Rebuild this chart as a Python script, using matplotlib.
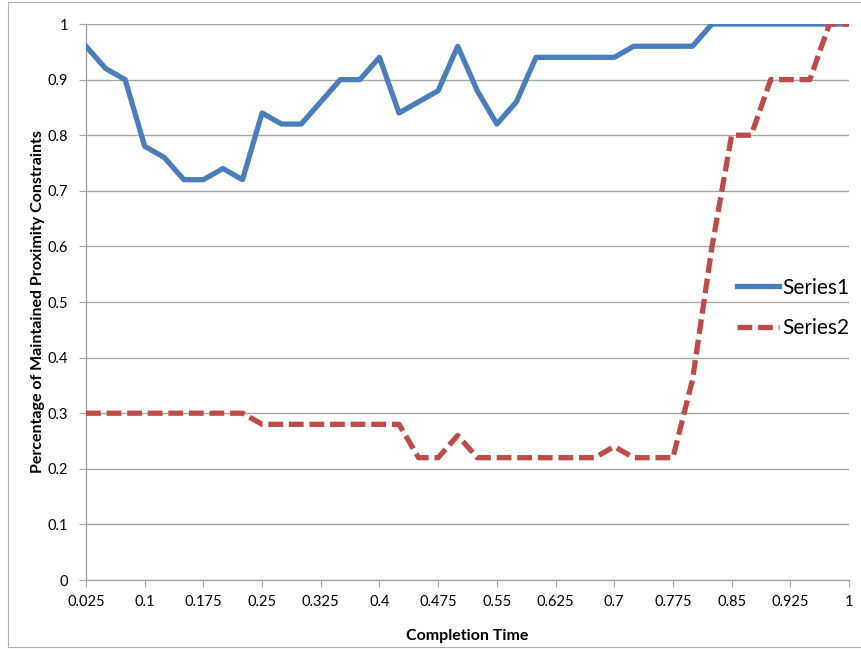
import matplotlib.pyplot as plt
import matplotlib.patches as mpatches

plt.rcParams["font.family"] = ["Lato", "DejaVu Sans"]

# completion time categories 0.025 .. 1
times = [round(0.025 * (i + 1), 3) for i in range(40)]
series1 = [0.96, 0.92, 0.90, 0.78, 0.76, 0.72, 0.72, 0.74, 0.72, 0.84,
           0.82, 0.82, 0.86, 0.90, 0.90, 0.94, 0.84, 0.86, 0.88, 0.96,
           0.88, 0.82, 0.86, 0.94, 0.94, 0.94, 0.94, 0.94, 0.96, 0.96,
           0.96, 0.96, 1.00, 1.00, 1.00, 1.00, 1.00, 1.00, 1.00, 1.00]
series2 = [0.30, 0.30, 0.30, 0.30, 0.30, 0.30, 0.30, 0.30, 0.30, 0.28,
           0.28, 0.28, 0.28, 0.28, 0.28, 0.28, 0.28, 0.22, 0.22, 0.26,
           0.22, 0.22, 0.22, 0.22, 0.22, 0.22, 0.22, 0.24, 0.22, 0.22,
           0.22, 0.36, 0.60, 0.80, 0.80, 0.90, 0.90, 0.90, 1.00, 1.00]
xtick_labels = ["0.025", "0.1", "0.175", "0.25", "0.325", "0.4", "0.475",
                "0.55", "0.625", "0.7", "0.775", "0.85", "0.925", "1"]
yticks = [0, 0.1, 0.2, 0.3, 0.4, 0.5, 0.6, 0.7, 0.8, 0.9, 1]

fig = plt.figure(figsize=(8.62, 6.49), dpi=100)
ax = fig.add_axes([86 / 862, 1 - 580 / 649, (849 - 86) / 862, (580 - 24) / 649])

# thin frame around the whole chart
fig.patches.append(mpatches.Rectangle((8 / 862, 2 / 649), 1.2, 1 - 4 / 649,
                                      transform=fig.transFigure, fill=False,
                                      edgecolor="#b0b0b0", linewidth=0.8))

ax.plot(times, series1, color="#4a7ebb", linewidth=3.8, label="Series1",
        zorder=3)
ax.plot(times, series2, color="#be4b48", linewidth=3.8, label="Series2",
        linestyle=(0, (2.8, 1.1)), zorder=3)

ax.set_xlim(0.025, 1.0)
ax.set_ylim(0, 1)
ax.set_xticks([float(t) for t in xtick_labels])
ax.set_xticklabels(xtick_labels)
ax.set_yticks(yticks)
ax.set_yticklabels(["0"] + [f"{v:g}" for v in yticks[1:]])
ax.grid(axis="y", color="#a6a6a6", linewidth=1)
ax.set_axisbelow(True)
for s in ("top", "right"):
    ax.spines[s].set_visible(False)
for s in ("left", "bottom"):
    ax.spines[s].set_color("#a6a6a6")
    ax.spines[s].set_linewidth(1)
ax.tick_params(axis="both", color="#a6a6a6", length=5, labelsize=10.5,
               labelcolor="black")
ax.tick_params(axis="x", pad=6)
ax.tick_params(axis="y", pad=8)

ax.set_xlabel("Completion Time", fontsize=11.5, fontweight="bold", labelpad=14)
ax.set_ylabel("Percentage of Maintained Proximity Constraints", fontsize=11.5,
              fontweight="bold", labelpad=2)

leg = fig.legend(*ax.get_legend_handles_labels(), loc="center left",
                 bbox_to_anchor=(737 / 862, 1 - 308 / 649), frameon=False,
                 fontsize=15, handlelength=2.0, handletextpad=0.15,
                 labelspacing=1.0, borderaxespad=0, borderpad=0)
leg.set_zorder(5)

fig.savefig("out.png", dpi=100)
